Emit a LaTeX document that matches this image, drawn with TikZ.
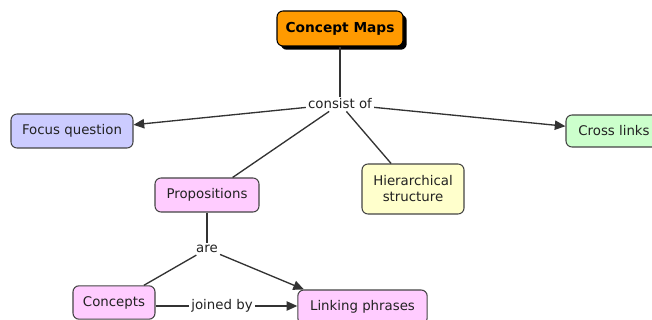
\documentclass[tikz,border=0pt]{standalone}
\usepackage{fontspec}
\setmainfont{DejaVu Sans}
\usetikzlibrary{arrows.meta,shadows}
\definecolor{lineC}{HTML}{333333}
\definecolor{borderC}{HTML}{444444}
\definecolor{orangeC}{HTML}{FF9A00}
\definecolor{blueC}{HTML}{CCCCFF}
\definecolor{greenC}{HTML}{CCFFCC}
\definecolor{pinkC}{HTML}{FFCCFF}
\definecolor{yellowC}{HTML}{FFFFCC}
\definecolor{textC}{HTML}{222222}
\tikzset{
  box/.style={draw=borderC, line width=0.8pt, rounded corners=4.5pt, align=center,
    inner sep=0pt, text=textC, font=\fontsize{10}{12}\selectfont},
  lab/.style={inner sep=1.5pt, text=textC, font=\fontsize{10}{12}\selectfont},
  conn/.style={draw=lineC, line width=1pt},
  arr/.style={conn, -{Triangle[length=8pt,width=7pt]}},
}
\begin{document}
\begin{tikzpicture}[x=0.75pt,y=-0.75pt]
\useasboundingbox (0,0) rectangle (652,320);
\begin{scope}
\clip (0,0) rectangle (652,320);
\node[box, fill=orangeC, minimum width=94.5pt, minimum height=26.25pt,
  font=\fontsize{10.3}{12}\bfseries, text=black, draw=black,
  drop shadow={shadow xshift=2.8pt, shadow yshift=-2.8pt, opacity=1, fill=black}]
  (cm) at (340,28.5) {Concept Maps};
\node[lab] (consist) at (340,104) {consist of};
\node[box, fill=blueC, minimum width=91.5pt, minimum height=25.5pt] (fq) at (72,131) {Focus question};
\node[box, fill=greenC, minimum width=72pt, minimum height=24pt] (cl) at (614,131) {Cross links};
\node[box, fill=pinkC, minimum width=78pt, minimum height=25.5pt] (prop) at (207,195) {Propositions};
\node[box, fill=yellowC, minimum width=76.5pt, minimum height=37.5pt] (hier) at (413,189) {Hierarchical\\structure};
\node[lab] (are) at (207,249) {are};
\node[box, fill=pinkC, minimum width=61.5pt, minimum height=25pt] (conc) at (114,302.5) {Concepts};
\node[lab] (joined) at (222,306) {joined by};
\node[box, fill=pinkC, minimum width=97pt, minimum height=25.5pt] (lp) at (362.5,307) {Linking phrases};
\end{scope}
\draw[conn] (cm) -- (consist);
\draw[arr] (consist) -- (fq);
\draw[arr] (consist) -- (cl);
\draw[conn] (consist) -- (prop);
\draw[conn] (consist) -- (hier);
\draw[conn] (prop) -- (are);
\draw[conn] (are) -- (conc);
\draw[arr] (are) -- ([xshift=5pt]lp.north west);
\draw[conn] (joined) -- (joined -| conc.east);
\draw[arr] (joined) -- (joined -| lp.west);
\end{tikzpicture}
\end{document}
